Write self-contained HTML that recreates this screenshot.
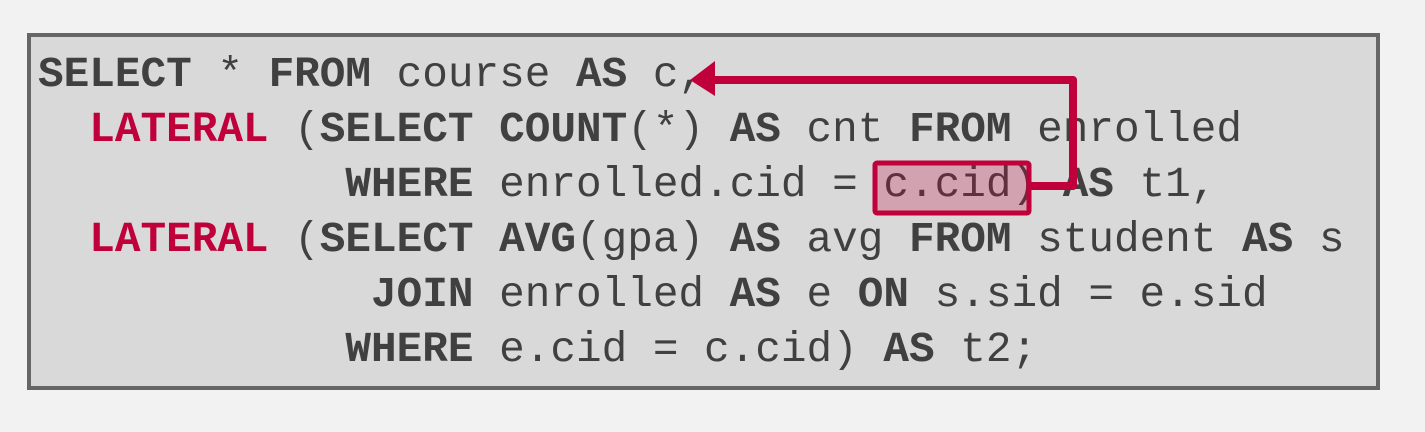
<!DOCTYPE html>
<html><head><style>
html,body{margin:0;padding:0;width:1425px;height:432px;background:#f2f2f2;overflow:hidden}
#box{position:absolute;left:27px;top:33px;width:1345px;height:349px;background:#d9d9d9;border:4px solid #666}
pre{position:absolute;left:38px;top:47px;margin:0;font-family:"Liberation Mono",monospace;font-size:42.7px;line-height:55px;color:#404040;white-space:pre}
b{font-weight:bold}
.r{color:#c0003a;font-weight:bold}
svg{position:absolute;left:0;top:0}
</style></head><body>
<div id="box"></div>
<pre><b>SELECT</b> * <b>FROM</b> course <b>AS</b> c,
  <span class="r">LATERAL</span> (<b>SELECT</b> <b>COUNT</b>(*) <b>AS</b> cnt <b>FROM</b> enrolled
            <b>WHERE</b> enrolled.cid = c.cid) <b>AS</b> t1,
  <span class="r">LATERAL</span> (<b>SELECT</b> <b>AVG</b>(gpa) <b>AS</b> avg <b>FROM</b> student <b>AS</b> s
             <b>JOIN</b> enrolled <b>AS</b> e <b>ON</b> s.sid = e.sid
            <b>WHERE</b> e.cid = c.cid) <b>AS</b> t2;</pre>
<svg width="1425" height="432">
<rect x="875" y="163" width="154" height="50" rx="2" fill="rgba(192,0,58,0.25)" stroke="#c0003a" stroke-width="5"/>
<polyline points="1030,186 1073,186 1073,80 712,80" fill="none" stroke="#c0003a" stroke-width="8" stroke-linejoin="round"/>
<polygon points="690,80 715,61 715,96" fill="#c0003a"/>
</svg>
</body></html>
